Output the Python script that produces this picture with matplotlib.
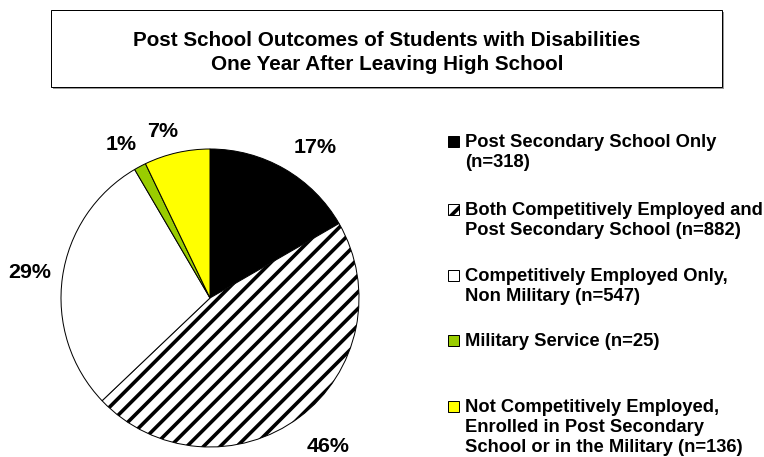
import numpy as np
import matplotlib.pyplot as plt
from matplotlib.patches import Rectangle

W, H, DPI = 764, 457, 100
PT = 72 / DPI  # points per pixel

plt.rcParams['font.family'] = ['Liberation Sans', 'DejaVu Sans']
plt.rcParams['hatch.linewidth'] = 2.6

title_lines = ["Post School Outcomes of Students with Disabilities",
               "One Year After Leaving High School"]
counts = [318, 882, 547, 25, 136]
legend_labels = [
    "Post Secondary School Only\n(n=318)",
    "Both Competitively Employed and\nPost Secondary School (n=882)",
    "Competitively Employed Only,\nNon Military (n=547)",
    "Military Service (n=25)",
    "Not Competitively Employed,\nEnrolled in Post Secondary\nSchool or in the Military (n=136)",
]
colors = ["black", "white", "white", "#99cc00", "#ffff00"]
hatches = [None, "//", None, None, None]

# where the percentage labels sit (degrees, radius multiple)
label_angle = [55, -51.5, 172, 120, 106]
label_dist = [1.23, 1.27, 1.22, 1.19, 1.16]


def fx(px):
    return px / W


def fy(px):
    return (H - px) / H


fig = plt.figure(figsize=(W / DPI, H / DPI), dpi=DPI)

# title box with a light shadow
fig.add_artist(Rectangle((fx(53), fy(89)), fx(671), 77 / H, transform=fig.transFigure,
                         facecolor="#999999", edgecolor="none"))
fig.add_artist(Rectangle((fx(51), fy(87)), fx(671), 77 / H, transform=fig.transFigure,
                         facecolor="white", edgecolor="black", linewidth=1.0 * PT))
for i, line in enumerate(title_lines):
    fig.text(fx(387), fy(40 + 24 * i), line, ha="center", va="center",
             fontsize=20.6 * PT, fontweight="bold")

# pie
cx, cy, r = 210, 298, 149
ax = fig.add_axes([fx(cx - r), fy(cy + r), 2 * r / W, 2 * r / H])
wedges, texts, autotexts = ax.pie(
    counts, colors=colors, startangle=90, counterclock=False,
    autopct="%1.0f%%", pctdistance=1.2,
    wedgeprops=dict(edgecolor="black", linewidth=1.0 * PT),
    textprops=dict(fontsize=21.5 * PT, fontweight="bold"))
for w, h in zip(wedges, hatches):
    if h:
        w.set_hatch(h)
for t, a, d in zip(autotexts, label_angle, label_dist):
    t.set_position((d * np.cos(np.radians(a)), d * np.sin(np.radians(a))))
ax.set_xlim(-1, 1)
ax.set_ylim(-1, 1)
ax.set_aspect("equal")
ax.axis("off")

# legend, drawn item by item
legend_y = [141, 209, 275, 340, 406]
for lab, c, h, y in zip(legend_labels, colors, hatches, legend_y):
    fig.add_artist(Rectangle((fx(448), fy(y + 5.5)), 11 / W, 11 / H, transform=fig.transFigure,
                             facecolor=c, hatch=h and "/", edgecolor="black", linewidth=1.0 * PT))
    fig.text(fx(465), fy(y - 7), lab, ha="left", va="top",
             fontsize=18.4 * PT, fontweight="bold", linespacing=1.22)

fig.savefig("out.png", dpi=DPI)
